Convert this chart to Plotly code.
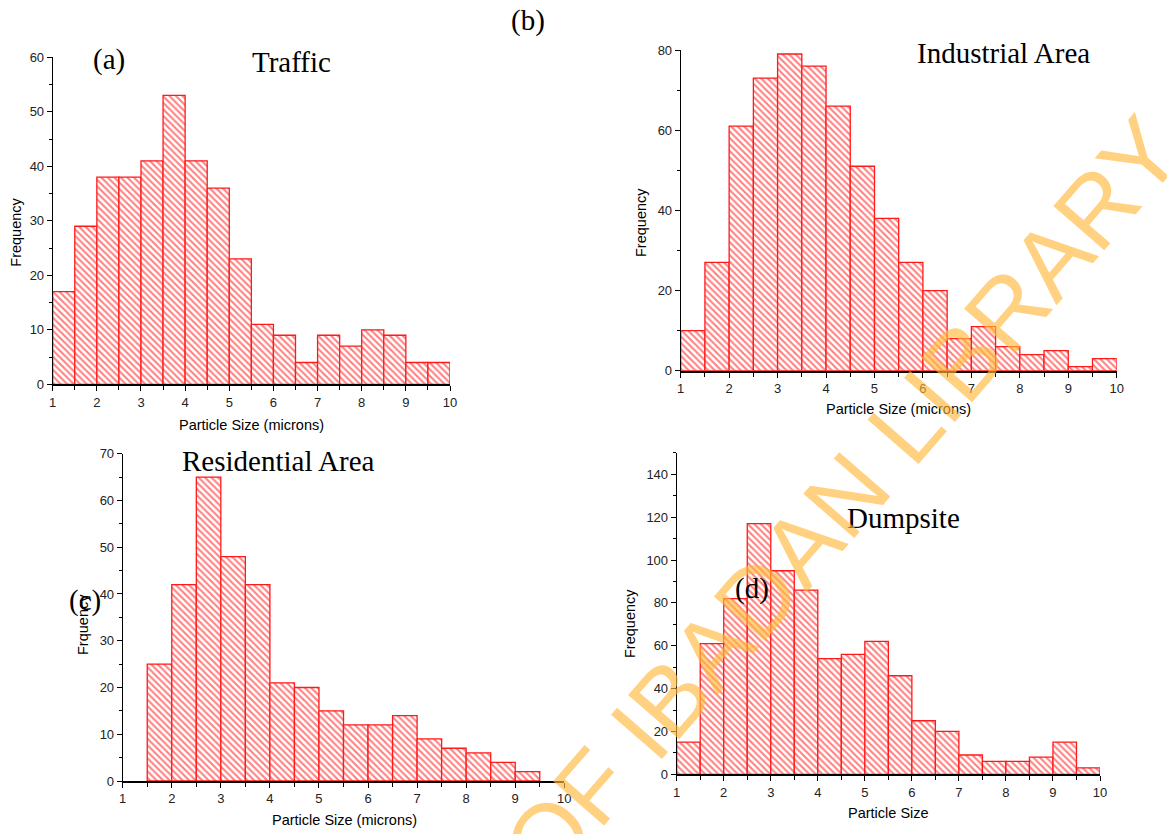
import plotly.graph_objects as go

W, H = 1167, 834

# ---- data (bin width 0.5 micron, bins start at 1.0) ----
bin_width = 0.5
traffic = [17, 29, 38, 38, 41, 53, 41, 36, 23, 11, 9, 4, 9, 7, 10, 9, 4, 4]
industrial = [10, 27, 61, 73, 79, 76, 66, 51, 38, 27, 20, 8, 11, 6, 4, 5, 1, 3]
residential = [None, 25, 42, 65, 48, 42, 21, 20, 15, 12, 12, 14, 9, 7, 6, 4, 2, None]
dumpsite = [15, 61, 82, 117, 95, 86, 54, 56, 62, 46, 25, 20, 9, 6, 6, 8, 15, 3]
bin_left = [1.0 + bin_width * i for i in range(18)]
bin_center = [b + bin_width / 2 for b in bin_left]

x_ticks = [1, 2, 3, 4, 5, 6, 7, 8, 9, 10]

panels = [
    # name, values, y max, y major step, y minor step, domain px (x0,x1,ytop,ybottom)
    ("Traffic", traffic, 60, 10, 5, (52.7, 450, 57.3, 384.3)),
    ("Industrial Area", industrial, 80, 20, 10, (680.7, 1116.7, 50, 370.7)),
    ("Residential Area", residential, 70, 10, 5, (122.7, 564.3, 453.7, 781)),
    ("Dumpsite", dumpsite, 150, 20, 10, (676.7, 1100, 452.9, 774.3)),
]


def px(x):
    return x / W


def py(y):
    return 1 - y / H


fig = go.Figure()
layout = dict(
    width=W, height=H, autosize=False,
    margin=dict(l=0, r=0, t=0, b=0, pad=0, autoexpand=False),
    paper_bgcolor="white", plot_bgcolor="white",
    showlegend=False,
    font=dict(family="Liberation Sans", color="black"),
)

for i, (name, vals, ymax, ystep, yminor, (x0, x1, yt, yb)) in enumerate(panels):
    n = "" if i == 0 else str(i + 1)
    fig.add_trace(go.Bar(
        x=bin_center, y=vals, width=bin_width,
        xaxis="x" + n, yaxis="y" + n, name=name,
        marker=dict(
            color="white",
            line=dict(color="#ff1a1a", width=1.3),
            pattern=dict(shape="\\", fgcolor="#ff0000", bgcolor="white",
                         size=4.6, solidity=0.45),
        ),
    ))
    common = dict(
        showgrid=False, zeroline=False, showline=True, automargin=False,
        linecolor="black", ticks="outside", ticklen=5, tickwidth=1,
        tickcolor="black",
        tickfont=dict(family="Liberation Sans", size=13, color="#222"),
    )
    layout["xaxis" + n] = dict(
        common, domain=[px(x0), px(x1)], range=[1, 10],
        tickvals=x_ticks, linewidth=1.6, anchor="y" + n,
        minor=dict(ticks="outside", ticklen=4, dtick=0.5, tick0=1,
                   tickcolor="black"),
    )
    layout["yaxis" + n] = dict(
        common, domain=[py(yb), py(yt)], range=[0, ymax],
        dtick=ystep, linewidth=1, anchor="x" + n,
        minor=dict(ticks="outside", ticklen=3, dtick=yminor,
                   tickcolor="black"),
    )

fig.update_layout(**layout)

serif = dict(family="Liberation Serif", size=29, color="black")
sans = dict(family="Liberation Sans", size=14.5, color="black")

texts = [
    ("(b)", 527.5, 21, serif, 0),
    ("(a)", 109, 59, serif, 0),
    ("Traffic", 291.7, 62, serif, 0),
    ("Industrial Area", 1003, 53, serif, 0),
    ("Residential Area", 278, 461, serif, 0),
    ("Dumpsite", 903, 518, serif, 0),
    ("(d)", 752, 588, serif, 0),
    ("Particle Size (microns)", 251.5, 425, sans, 0),
    ("Particle Size (microns)", 898, 409, sans, 0),
    ("Particle Size (microns)", 344, 820, sans, 0),
    ("Particle Size", 888, 813, sans, 0),
    ("Frequency", 15.7, 232, sans, -90),
    ("Frequency", 641, 222, sans, -90),
    ("Frquency", 83, 625, sans, -90),
    ("Frequency", 630, 624, sans, -90),
    ("(c)", 85, 600, serif, 0),
]
for t, x, y, f, ang in texts:
    fig.add_annotation(text=t, x=px(x), y=py(y), xref="paper", yref="paper",
                       showarrow=False, font=f, textangle=ang,
                       xanchor="center", yanchor="middle")

# watermark
fig.add_annotation(
    text="OF IBADAN LIBRARY", x=px(842), y=py(500), xref="paper", yref="paper",
    showarrow=False, textangle=-49,
    font=dict(family="Liberation Sans", size=98,
              color="rgba(255,185,60,0.65)"),
    xanchor="center", yanchor="middle",
)

post = (
    "document.documentElement.style.margin='0';"
    "document.body.style.margin='0';"
    "document.body.style.overflow='hidden';"
)
fig.write_html("out.html", post_script=post,
               config={"displayModeBar": False})
